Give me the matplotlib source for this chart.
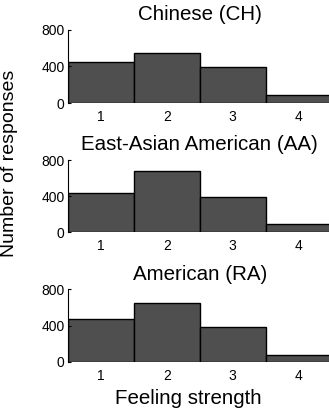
import numpy as np
import matplotlib.pyplot as plt

plt.rcParams['font.family'] = ['Liberation Sans', 'DejaVu Sans']

# Data
strength = [1, 2, 3, 4]
titles = ['Chinese (CH)', 'East-Asian American (AA)', 'American (RA)']
counts_ch = [449, 545, 398, 88]
counts_aa = [433, 681, 389, 92]
counts_ra = [472, 645, 387, 74]
all_counts = [counts_ch, counts_aa, counts_ra]

fig = plt.figure(figsize=(3.29, 4.13), dpi=100)

# axes boxes (left, bottom, width, height) in figure fraction
boxes = [(0.207, 0.7506, 0.80, 0.1768),
         (0.207, 0.4375, 0.80, 0.175),
         (0.207, 0.1242, 0.80, 0.175)]

for box, title, counts in zip(boxes, titles, all_counts):
    ax = fig.add_axes(box)
    ax.bar(strength, counts, width=1.0, color='#4f4f4f', edgecolor='black', linewidth=1.0)
    ax.set_xlim(0.5, 4.5)
    ax.set_ylim(0, 800)
    ax.set_yticks([0, 400, 800])
    ax.set_xticks(strength)
    ax.spines['top'].set_visible(False)
    ax.spines['right'].set_visible(False)
    ax.spines['bottom'].set_visible(False)
    ax.tick_params(axis='y', direction='in', length=2.5, pad=2.5, labelsize=10)
    ax.tick_params(axis='x', length=0, pad=5, labelsize=10)
    ax.set_title(title, fontsize=14.8, pad=7)

fig.text(0.03, 0.605, 'Number of responses', rotation=90, ha='center', va='center', fontsize=14)
fig.text(0.573, 0.036, 'Feeling strength', ha='center', va='center', fontsize=14.8)

plt.savefig('out.png', dpi=100)
